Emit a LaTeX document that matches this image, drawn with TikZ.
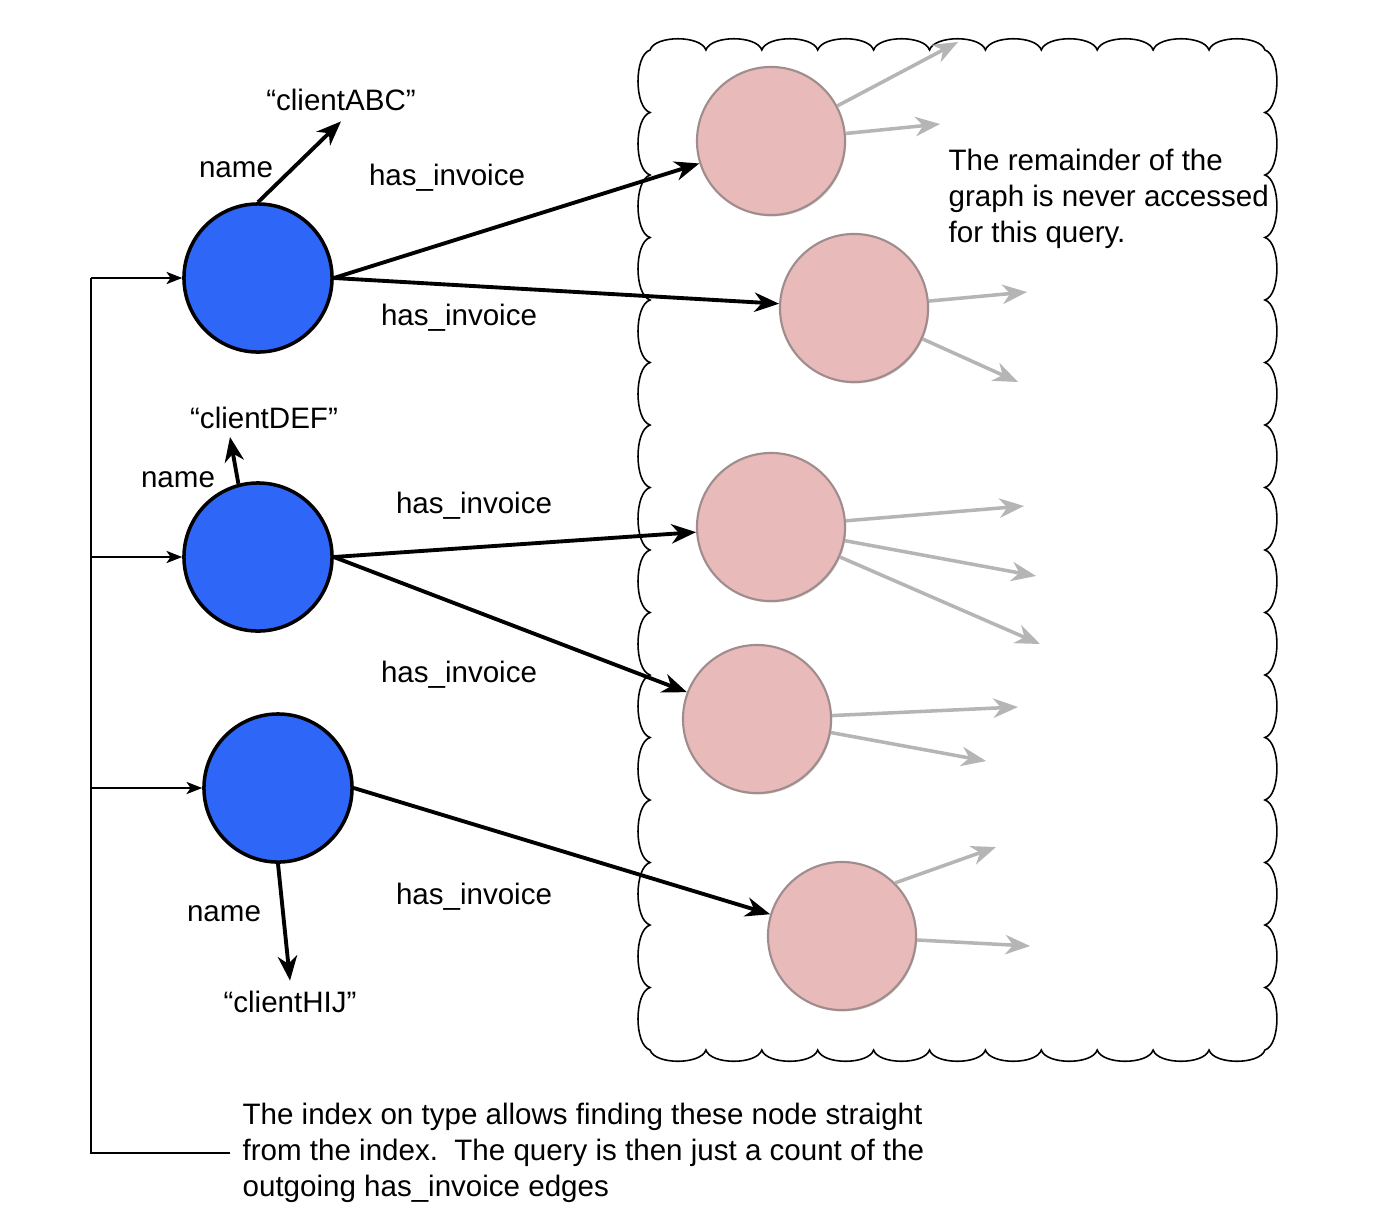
\documentclass[tikz,border=0pt]{standalone}
\usepackage{fontspec}
\setmainfont{Liberation Sans}
\usepackage{xcolor}
\usepackage{tikz}
\usetikzlibrary{arrows.meta, shadows}
\definecolor{clientblue}{HTML}{2E66F7}
\definecolor{invfill}{HTML}{E8BABA}
\definecolor{invedge}{HTML}{A08C8C}
\definecolor{faded}{HTML}{B5B5B5}
\tikzstyle{client} = [circle, minimum size=1.48cm, inner sep=0pt, draw=black, line width=1pt, fill=clientblue]
\tikzstyle{invoice} = [circle, minimum size=1.48cm, inner sep=0pt, draw=invedge, line width=0.6pt, fill=invfill, drop shadow={shadow xshift=0.3pt, shadow yshift=-0.4pt, fill=black!30, opacity=0.6}]
\tikzstyle{label} = [font=\fontsize{8.4}{10.2}\selectfont, inner sep=2.8pt]
\tikzstyle{note} = [font=\fontsize{8.4}{10.2}\selectfont, align=left, inner sep=3.4pt]
\tikzstyle{arrow} = [line width=1.1pt, -{Stealth[length=7pt, width=5.5pt, inset=2.2pt]}]
\tikzstyle{fadedarrow} = [line width=1pt, draw=faded, -{Stealth[length=7pt, width=5.5pt, inset=2.2pt, fill=faded]}]
\tikzstyle{indexline} = [line width=0.4pt]
\tikzstyle{indexarrow} = [line width=0.4pt, -{Stealth[length=4.5pt, width=3.5pt, inset=1.2pt]}]
\tikzstyle{cloudline} = [line width=0.45pt, draw=black, fill=white]

\begin{document}
\begin{tikzpicture}[x=0.01cm, y=-0.01cm]
    \useasboundingbox (0,0) rectangle (1386,1212);

    \draw[cloudline] (650,50)
        \foreach \i in {1,...,11} { .. controls +(5,-15) and +(-5,-15) .. ++(55.9,0) }
        \foreach \i in {1,...,16} { .. controls +(16,5) and +(16,-5) .. ++(0,62.5) }
        \foreach \i in {1,...,11} { .. controls +(-5,15) and +(5,15) .. ++(-55.9,0) }
        \foreach \i in {1,...,16} { .. controls +(-16,-5) and +(-16,5) .. ++(0,-62.5) }
        -- cycle;

    \node[client] (abc) at (258,278) {};
    \node[client] (def) at (258,557) {};
    \node[client] (hij) at (278,788) {};

    \node[invoice] (inv1) at (771,141) {};
    \node[invoice] (inv2) at (854,308) {};
    \node[invoice] (inv3) at (771,527) {};
    \node[invoice] (inv4) at (757,719) {};
    \node[invoice] (inv5) at (842,936) {};

    \node[label] (abcname) at (341,100) {“clientABC”};
    \node[label] (defname) at (264,418) {“clientDEF”};
    \node[label] (hijname) at (290,1002) {“clientHIJ”};
    \node[label] at (236,170) {name};
    \node[label] at (178,480) {name};
    \node[label] at (224,914) {name};
    \node[label] at (447,178) {has\_invoice};
    \node[label] at (459,318) {has\_invoice};
    \node[label] at (474,506) {has\_invoice};
    \node[label] at (459,675) {has\_invoice};
    \node[label] at (474,897) {has\_invoice};

    \node[note, anchor=west] (remainder) at (936,199) {The remainder of the\\graph is never accessed\\for this query.};
    \node[note, anchor=west] (index) at (230,1153) {The index on type allows finding these node straight\\from the index.\ \ The query is then just a count of the\\outgoing has\_invoice edges};

    \coordinate (defend) at (230,437);
    \coordinate (rail) at (91,278);
    \coordinate (f11) at (958,42);
    \coordinate (f12) at (940,124);
    \coordinate (f21) at (1027,292);
    \coordinate (f22) at (1018,382);
    \coordinate (f31) at (1024,506);
    \coordinate (f32) at (1036,576);
    \coordinate (f33) at (1040,644);
    \coordinate (f41) at (1018,707);
    \coordinate (f42) at (986,761);
    \coordinate (f51) at (996,847);
    \coordinate (f52) at (1030,946);

    \draw[arrow] (abc.north) -- (abcname.south);
    \draw[arrow] (def.105) -- (defend);
    \draw[arrow] (hij.south) -- (hijname.north);

    \draw[arrow] (abc.east) -- (inv1);
    \draw[arrow] (abc.east) -- (inv2);
    \draw[arrow] (def.east) -- (inv3);
    \draw[arrow] (def.east) -- (inv4);
    \draw[arrow] (hij.east) -- (inv5);

    \draw[fadedarrow] (inv1) -- (f11);
    \draw[fadedarrow] (inv1) -- (f12);
    \draw[fadedarrow] (inv2) -- (f21);
    \draw[fadedarrow] (inv2) -- (f22);
    \draw[fadedarrow] (inv3) -- (f31);
    \draw[fadedarrow] (inv3) -- (f32);
    \draw[fadedarrow] (inv3) -- (f33);
    \draw[fadedarrow] (inv4) -- (f41);
    \draw[fadedarrow] (inv4) -- (f42);
    \draw[fadedarrow] (inv5.45) -- (f51);
    \draw[fadedarrow] (inv5) -- (f52);

    \draw[indexline] (index.west) -| (rail);
    \draw[indexarrow] (rail) -- (abc.west);
    \draw[indexarrow] (rail |- def.west) -- (def.west);
    \draw[indexarrow] (rail |- hij.west) -- (hij.west);
\end{tikzpicture}
\end{document}
